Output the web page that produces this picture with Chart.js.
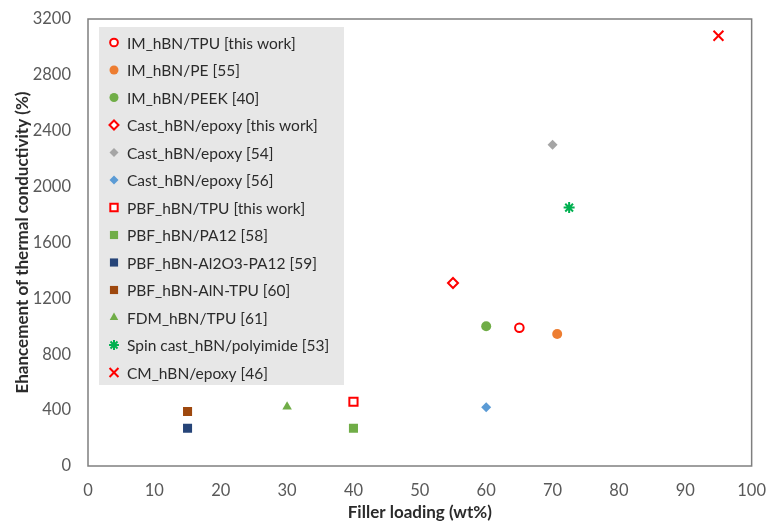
<!DOCTYPE html>
<html>
<head>
<meta charset="utf-8">
<script src="https://cdn.jsdelivr.net/npm/chart.js@4.4.1/dist/chart.umd.min.js"></script>
<style>
  html, body { margin: 0; padding: 0; background: #fff; overflow: hidden; }
  canvas { display: block; }
</style>
</head>
<body>
<canvas id="chart" width="781" height="526"></canvas>
<script>
// ── DATA ──────────────────────────────────────────────────────────
const seriesLabels = [
  'IM_hBN/TPU [this work]',
  'IM_hBN/PE [55]',
  'IM_hBN/PEEK [40]',
  'Cast_hBN/epoxy [this work]',
  'Cast_hBN/epoxy [54]',
  'Cast_hBN/epoxy [56]',
  'PBF_hBN/TPU [this work]',
  'PBF_hBN/PA12 [58]',
  'PBF_hBN-Al2O3-PA12 [59]',
  'PBF_hBN-AlN-TPU [60]',
  'FDM_hBN/TPU [61]',
  'Spin cast_hBN/polyimide [53]',
  'CM_hBN/epoxy [46]',
];
// filler loading (wt%) per series
const fillerLoading = [65, 70.7, 60, 55, 70, 60, 40, 40, 15, 15, 30, 72.5, 95];
// enhancement of thermal conductivity (%) per series
const enhancement   = [990, 945, 1000, 1310, 2300, 420, 460, 270, 270, 390, 425, 1850, 3080];

const xTicks = [0, 10, 20, 30, 40, 50, 60, 70, 80, 90, 100];
const yTicks = [0, 400, 800, 1200, 1600, 2000, 2400, 2800, 3200];

// ── MARKER STYLES ─────────────────────────────────────────────────
const RED = '#FF0000';
const markers = [
  { style: 'circle',   color: RED,       open: true,  r: 4.3 },
  { style: 'circle',   color: '#ED7D31', open: false, r: 5 },
  { style: 'circle',   color: '#70AD47', open: false, r: 5 },
  { style: 'rectRot',  color: RED,       open: true,  r: 5 },
  { style: 'rectRot',  color: '#A5A5A5', open: false, r: 5 },
  { style: 'rectRot',  color: '#5B9BD5', open: false, r: 5 },
  { style: 'rect',     color: RED,       open: true,  r: 5.8 },
  { style: 'rect',     color: '#70AD47', open: false, r: 6.4 },
  { style: 'rect',     color: '#264478', open: false, r: 6.4 },
  { style: 'rect',     color: '#9E480E', open: false, r: 6.4 },
  { style: 'triangle', color: '#70AD47', open: false, r: 5.5 },
  { style: 'star',     color: '#00B050', open: false, r: 5.5 },
  { style: 'crossRot', color: RED,       open: false, r: 7 },
];

function lineStyle(m) {
  return m.style === 'star' || m.style === 'crossRot';
}

const datasets = seriesLabels.map((label, i) => {
  const m = markers[i];
  return {
    label,
    data: [{ x: fillerLoading[i], y: enhancement[i] }],
    pointStyle: m.style,
    pointRadius: m.r,
    pointHoverRadius: m.r,
    pointBackgroundColor: m.open ? '#fff' : m.color,
    pointBorderColor: m.color,
    pointBorderWidth: m.open || lineStyle(m) ? 2 : 0,
    showLine: false,
  };
});

// ── PLOT FRAME ────────────────────────────────────────────────────
const frame = {
  id: 'frame',
  afterDatasetsDraw(chart) {
    const a = chart.chartArea;
    const ctx = chart.ctx;
    ctx.save();
    ctx.strokeStyle = '#7F7F7F';
    ctx.lineWidth = 1.5;
    ctx.strokeRect(a.left, a.top, a.right - a.left, a.bottom - a.top);
    ctx.restore();
  }
};

// ── IN-PLOT LEGEND ────────────────────────────────────────────────
const boxLegend = {
  id: 'boxLegend',
  afterDraw(chart) {
    const a = chart.chartArea;
    const ctx = chart.ctx;
    const x0 = a.left + 11, y0 = a.top + 8;
    const w = 245, h = 358, step = 27.5;
    ctx.save();
    ctx.fillStyle = '#E7E7E7';
    ctx.fillRect(x0, y0, w, h);
    ctx.font = '15.5px Lato, "Open Sans", sans-serif';
    ctx.textBaseline = 'middle';
    chart.data.datasets.forEach((ds, i) => {
      const y = y0 + 15.5 + i * step;
      const mx = x0 + 15;
      ctx.fillStyle = ds.pointBackgroundColor;
      ctx.strokeStyle = ds.pointBorderColor;
      ctx.lineWidth = ds.pointBorderWidth || 0.01;
      Chart.helpers.drawPoint(ctx, { pointStyle: ds.pointStyle, radius: ds.pointRadius * 0.9, borderWidth: ds.pointBorderWidth }, mx, y);
      ctx.fillStyle = '#2b2b2b';
      ctx.fillText(ds.label, x0 + 28, y + 1);
    });
    ctx.restore();
  }
};

// ── CHART ─────────────────────────────────────────────────────────
const tickFont = { family: 'Lato, "Open Sans", sans-serif', size: 16.5 };
const titleFont = { family: 'Lato, "Open Sans", sans-serif', size: 17, weight: 'bold' };

new Chart(document.getElementById('chart'), {
  type: 'scatter',
  data: { datasets },
  options: {
    responsive: false,
    animation: false,
    devicePixelRatio: 1,
    layout: { padding: { top: 19, right: 14, left: 12, bottom: 3 } },
    plugins: {
      legend: { display: false },
      tooltip: { enabled: false },
    },
    scales: {
      x: {
        type: 'linear',
        min: 0, max: 100,
        afterBuildTicks: s => { s.ticks = xTicks.map(v => ({ value: v })); },
        afterFit: s => { s.height = 57; },
        grid: { display: false, drawTicks: false },
        border: { display: false },
        ticks: { color: '#595959', font: tickFont, padding: 15, maxRotation: 0, callback: v => String(v) },
        title: { display: true, text: 'Filler loading (wt%)', color: '#2b2b2b', font: titleFont, padding: { top: 0, bottom: 0 } },
      },
      y: {
        type: 'linear',
        min: 0, max: 3200,
        afterBuildTicks: s => { s.ticks = yTicks.map(v => ({ value: v })); },
        afterFit: s => { s.width = 76; s.paddingTop = 0; s.paddingBottom = 0; },
        grid: { display: false, drawTicks: false },
        border: { display: false },
        ticks: { color: '#595959', font: tickFont, padding: 17, callback: v => String(v) },
        title: { display: true, text: 'Ehancement of thermal conductivity (%)', color: '#2b2b2b', font: titleFont, padding: { top: 0, bottom: 0 } },
      },
    },
  },
  plugins: [frame, boxLegend],
});
</script>
</body>
</html>
